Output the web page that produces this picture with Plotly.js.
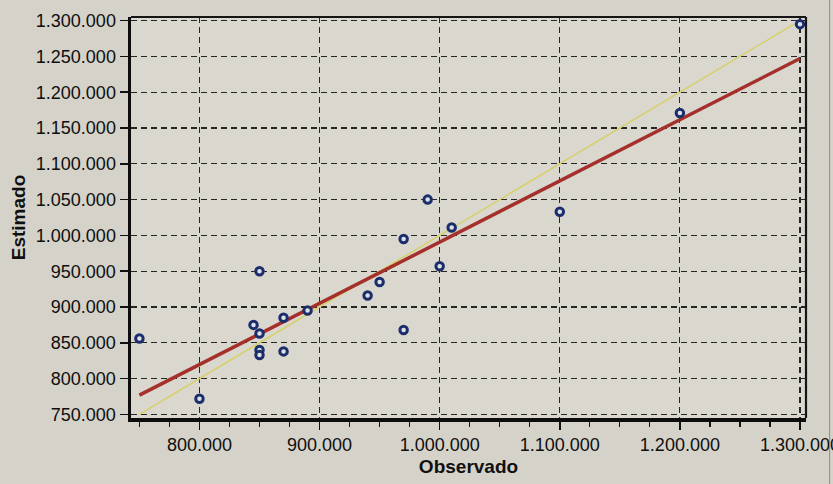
<!DOCTYPE html>
<html>
<head>
<meta charset="utf-8">
<script src="https://cdn.plot.ly/plotly-3.0.1.min.js"></script>
<style>
  html, body { margin: 0; padding: 0; background: #d5d3c9; }
  #chart { width: 833px; height: 484px; }
</style>
</head>
<body>
<div id="chart"></div>
<script>
const observado = [750000, 800000, 845000, 850000, 850000, 850000, 850000, 870000, 870000, 890000,
                   940000, 950000, 970000, 970000, 990000, 1000000, 1010000, 1100000, 1200000, 1300000];
const estimado  = [856000, 772000, 875000, 950000, 863000, 840000, 833000, 885000, 838000, 895000,
                   916000, 935000, 995000, 868000, 1050000, 957000, 1011000, 1033000, 1171000, 1295000];

// Regression line (red) endpoints
const ajusteX = [750000, 1300000];
const ajusteY = [777000, 1247000];

// Identity line y = x (yellow)
const identX = [750000, 1295000];
const identY = [750000, 1295000];

const xTicks = [800000, 900000, 1000000, 1100000, 1200000, 1300000];
const yTicks = [750000, 800000, 850000, 900000, 950000, 1000000, 1050000, 1100000,
                1150000, 1200000, 1250000, 1300000];

const traces = [
  {
    x: identX, y: identY, type: 'scatter', mode: 'lines',
    line: { color: '#d6cf62', width: 1.4 }, hoverinfo: 'skip'
  },
  {
    x: ajusteX, y: ajusteY, type: 'scatter', mode: 'lines',
    line: { color: '#a5302b', width: 3.5 }, hoverinfo: 'skip'
  },
  {
    x: observado, y: estimado, type: 'scatter', mode: 'markers',
    marker: { symbol: 'circle', size: 7.5, color: '#dfe1e8',
              line: { color: '#1b2e6c', width: 3 } }
  }
];

const tickFont = { family: 'Liberation Sans, Arial, sans-serif', size: 18, color: '#0e0e0e' };
const titleFont = { family: 'Liberation Sans, Arial, sans-serif', size: 19, color: '#101010', weight: 'bold' };

const layout = {
  width: 833, height: 484,
  margin: { l: 131, r: 27, t: 17, b: 66 },
  paper_bgcolor: '#d5d3c9',
  plot_bgcolor: '#dad8ce',
  showlegend: false,
  separators: ',.',
  xaxis: {
    range: [743000, 1305000],
    tickmode: 'array', tickvals: xTicks,
    tickformat: ',.0f',
    tickfont: tickFont,
    ticklabeloverflow: 'allow',
    ticks: 'outside', ticklen: 8, tickwidth: 1.5, tickcolor: '#111',
    minor: { dtick: 25000, tick0: 0, ticks: 'outside', ticklen: 5, tickwidth: 1.2, tickcolor: '#111', showgrid: false },
    showgrid: true, gridcolor: '#262626', gridwidth: 1.2, griddash: '6px,4px',
    showline: true, linecolor: '#0d0d0d', linewidth: 3.5,
    zeroline: false,
    title: { text: 'Observado', font: titleFont, standoff: 6 },
    automargin: false
  },
  yaxis: {
    range: [745000, 1305000],
    tickmode: 'array', tickvals: yTicks,
    tickformat: ',.0f',
    tickfont: tickFont,
    ticks: 'outside', ticklen: 8, tickwidth: 1.5, tickcolor: '#111',
    showgrid: true, gridcolor: '#262626', gridwidth: 1.2, griddash: '6px,4px',
    showline: true, linecolor: '#0d0d0d', linewidth: 3.5,
    zeroline: false,
    title: { text: 'Estimado', font: titleFont, standoff: 6 },
    automargin: false
  },
  shapes: [
    { type: 'line', xref: 'paper', yref: 'paper', x0: 0, x1: 1, y0: 1, y1: 1,
      line: { color: '#151515', width: 2.2 } },
    { type: 'line', xref: 'paper', yref: 'paper', x0: 1, x1: 1, y0: 0, y1: 1,
      line: { color: '#151515', width: 2.2 } },
    { type: 'line', xref: 'paper', yref: 'paper', x0: 1.035, x1: 1.035, y0: -0.2, y1: 1.05,
      line: { color: '#8c8b86', width: 1 } }
  ]
};

Plotly.newPlot('chart', traces, layout, { displayModeBar: false, staticPlot: true });
</script>
</body>
</html>
